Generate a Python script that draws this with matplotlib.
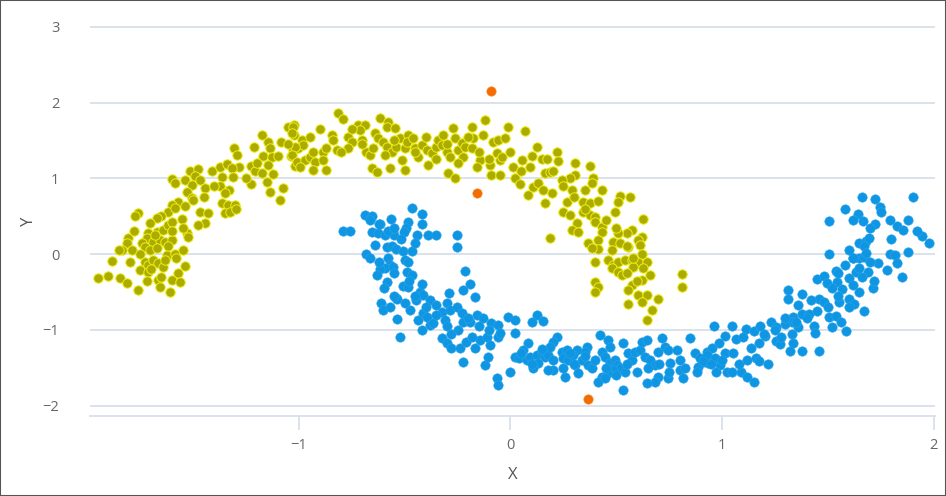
import matplotlib.pyplot as plt
from matplotlib.patches import Rectangle

# class 0 (upper moon)
moon_a_x = [
    -1.599, -1.587, -1.516, -1.476, -1.492, -1.539, -1.508, -1.531, -1.468, -1.445,
    -1.413, -1.374, -1.342, -1.284, -1.319, -1.366, -1.374, -1.331, -1.311, -1.308,
    -1.295, -1.229, -1.208, -1.177, -1.229, -1.213, -1.174, -1.148, -1.169, -1.137,
    -1.126, -1.145, -1.122, -1.137, -1.077, -1.085, -1.051, -1.022, -1.022, -1.027,
    -1.038, -1.019, -1.003,
    -1.090, -1.508, -1.571, -1.602, -1.618, -1.587, -1.539, -1.500, -1.468, -1.429,
    -1.445, -1.476, -1.366, -1.334, -1.303, -1.350, -1.326, -1.760, -1.776, -1.650,
    -1.673, -1.705, -1.713, -1.720, -1.673, -1.642, -1.618, -1.602, -1.555, -1.531,
    -1.523, -1.807, -1.815, -1.839, -1.791, -1.744, -1.728, -1.689, -1.657, -1.634,
    -1.602, -1.705, -1.673, -1.626, -1.587, -1.547, -1.886, -1.752, -1.728, -1.713,
    -1.689, -1.665, -1.642, -1.634, -1.539, -1.949, -1.902, -1.847, -1.815, -1.760,
    -1.665, -1.657, -1.610, -1.602, -1.571, -1.563, -1.713,
    -0.814, -0.794, -1.027, -1.035, -0.988, -0.980, -1.019, -1.035, -1.011, -0.972,
    -0.948, -0.933, -0.925, -0.933, -0.996, -0.885, -0.870, -0.885, -0.870, -0.846,
    -0.838, -0.822, -0.767, -0.751, -0.767, -0.720, -0.688, -0.704, -0.712, -0.681,
    -0.665, -0.657, -0.633, -0.641, -0.625, -0.617, -0.578, -0.586, -0.547, -0.602,
    -0.586, -0.562, -0.594, -0.570, -0.523, -0.539, -0.499, -0.484, -0.491, -0.515,
    -0.499, -0.460, -0.452, -0.436, -0.420, -0.397, -0.389, -0.373, -0.350, -0.342,
    -0.318, -0.326, -0.302, -0.287, -0.271, -0.263, -0.247, -0.231, -0.216, -0.223,
    -0.294, -0.263, -0.184, -0.176, -0.184, -0.129, -0.121, -0.145, -0.160, -0.097,
    -0.082, -0.058, -0.066, -0.050, -0.090, -0.050,
    -0.010, 0.069, -0.026, -0.041, 0.124, 0.219, 0.226, 0.053, 0.092, 0.148,
    0.171, 0.014, 0.163, 0.187, 0.305, 0.376, 0.305, 0.282, 0.242, 0.392,
    0.384, 0.022, 0.045, 0.108, 0.085, 0.132, 0.156, 0.195, 0.289, 0.352,
    0.431, 0.518, 0.565,
    0.163, 0.266, 0.345, 0.376, 0.416, 0.250, 0.282, 0.345, 0.376, 0.400,
    0.510, 0.494, 0.400, 0.431, 0.431, 0.313, 0.289, 0.321, 0.628, 0.573,
    0.549, 0.510, 0.486, 0.518, 0.620, 0.604, 0.612, 0.187, 0.368, 0.416,
    0.416, 0.384, 0.557, 0.400, 0.462, 0.486, 0.510, 0.541, 0.573, 0.604,
    0.644, 0.478, 0.510, 0.526, 0.581, 0.628, 0.660, 0.809, 0.809, 0.400,
    0.416, 0.620, 0.573, 0.557, 0.604, 0.644, 0.699,
    0.400, 0.620, 0.557, 0.667, 0.644,
    -1.80, -1.75, -1.70, -1.68, -1.65, -1.60, -1.62, -1.58, -1.55, -1.78,
    -1.72, -1.85, -1.45, -1.40, -1.35, -1.25, -1.20, -1.10, -1.05, -1.15,
    -1.30, -0.95, -0.90, -0.80, -0.75, -0.70, -0.65, -0.55, -0.45, -0.40,
    -0.35, -0.30, -0.20, -0.15, -0.10, -0.25, 0.00, 0.05, 0.10, 0.20,
    0.25, 0.30, 0.35, 0.45, 0.50, 0.55, 0.58, 0.62, 0.55, 0.60,
    0.48,
]
moon_a_y = [
    0.985, 0.941, 1.100, 1.126, 1.029, 0.977, 0.911, 0.823, 0.977, 0.867,
    1.100, 1.153, 1.188, 1.144, 1.131, 1.012, 0.897, 0.845, 1.021, 1.394,
    1.306, 1.161, 1.100, 1.065, 0.924, 1.416, 1.570, 1.482, 1.293, 1.394,
    1.276, 1.175, 1.056, 0.823, 0.867, 1.482, 1.671, 1.702, 1.570, 1.372,
    1.293, 1.161, 1.394,
    0.712, 0.734, 0.690, 0.646, 0.558, 0.602, 0.633, 0.712, 0.558, 0.536,
    0.404, 0.382, 0.668, 0.646, 0.646, 0.536, 0.558, 0.536, 0.501, 0.501,
    0.470, 0.404, 0.272, 0.206, 0.294, 0.316, 0.382, 0.426, 0.457, 0.272,
    0.228, 0.206, 0.140, 0.052, 0.052, 0.140, 0.096, 0.162, 0.184, 0.162,
    0.184, 0.052, 0.074, -0.014, 0.000, 0.052, -0.088, -0.211, -0.102, -0.145,
    -0.080, -0.124, -0.167, -0.080, -0.159, -0.321, -0.291, -0.321, -0.379, -0.475,
    -0.343, -0.431, -0.497, -0.343, -0.255, -0.365, -0.233,
    1.856, 1.777, 1.680, 1.592, 1.504, 1.438, 1.416, 1.306, 1.218, 1.240,
    1.284, 1.350, 1.218, 1.109, 1.153, 1.350, 1.394, 1.240, 1.109, 1.570,
    1.504, 1.372, 1.548, 1.482, 1.394, 1.702, 1.702, 1.504, 1.636, 1.350,
    1.306, 1.131, 1.087, 1.592, 1.526, 1.790, 1.746, 1.680, 1.658, 1.482,
    1.416, 1.350, 1.306, 1.131, 1.526, 1.416, 1.394, 1.570, 1.482, 1.240,
    1.109, 1.526, 1.394, 1.284, 1.438, 1.372, 1.175, 1.328, 1.416, 1.504,
    1.570, 1.438, 1.350, 1.284, 1.658, 1.526, 1.372, 1.460, 1.416, 1.284,
    1.065, 0.998, 1.680, 1.526, 1.394, 1.570, 1.768, 1.240, 1.153, 1.175,
    1.482, 1.504, 1.328, 1.240, 1.043, 1.043,
    1.671, 1.628, 1.526, 1.284, 1.416, 1.350, 1.232, 1.240, 1.144, 1.249,
    1.258, 1.144, 1.065, 1.087, 1.205, 1.161, 1.043, 0.998, 0.977, 0.998,
    0.933, 0.998, 0.924, 0.889, 0.779, 0.933, 0.845, 0.809, 0.845, 0.845,
    0.845, 0.766, 0.748,
    0.668, 0.690, 0.690, 0.668, 0.703, 0.558, 0.514, 0.558, 0.514, 0.492,
    0.690, 0.558, 0.426, 0.360, 0.294, 0.404, 0.316, 0.294, 0.457, 0.316,
    0.272, 0.272, 0.162, 0.140, 0.228, 0.184, 0.118, 0.206, 0.140, 0.184,
    0.061, 0.074, 0.096, -0.102, -0.080, -0.145, -0.102, -0.080, -0.080, -0.102,
    -0.102, -0.189, -0.233, -0.277, -0.176, -0.189, -0.277, -0.269, -0.431, -0.365,
    -0.431, -0.343, -0.409, -0.475, -0.541, -0.541, -0.599,
    -0.497, -0.629, -0.660, -0.739, -0.871,
    -0.10, 0.00, -0.20, 0.25, -0.30, 0.30, 0.10, -0.05, 0.35, 0.30,
    -0.35, 0.05, 0.75, 0.90, 0.80, 1.00, 1.20, 1.30, 1.45, 0.95,
    0.60, 1.55, 1.65, 1.35, 1.65, 1.45, 1.40, 1.50, 1.35, 1.55,
    1.25, 1.45, 1.55, 1.35, 1.25, 1.20, 1.35, 1.10, 1.30, 1.10,
    0.90, 0.75, 0.60, 0.45, 0.35, 0.10, -0.05, 0.00, -0.25, -0.35,
    0.05,
]

# class 1 (lower moon)
moon_b_x = [
    -0.791, -0.759, -0.688, -0.657, -0.665, -0.617, -0.567, -0.465, -0.420, -0.420,
    -0.484, -0.495, -0.504, -0.657, -0.625, -0.594, -0.550, -0.444, -0.392, -0.353,
    -0.252, -0.252, -0.586, -0.562, -0.539, -0.507, -0.468, -0.681, -0.665, -0.578,
    -0.570, -0.499, -0.484, -0.594, -0.617, -0.554, -0.633, -0.491, -0.468, -0.586,
    -0.216, -0.192, -0.223, -0.168, -0.289, -0.510, -0.484, -0.428, -0.412, -0.539,
    -0.614, -0.602, -0.570, -0.536, -0.536, -0.476, -0.447, -0.436, -0.412, -0.397,
    -0.420, -0.381, -0.365, -0.381, -0.350, -0.326, -0.310, -0.302, -0.287, -0.255,
    -0.231, -0.223, -0.192, -0.160, -0.129, -0.090, -0.058, -0.523, -0.326, -0.302,
    -0.279, -0.239, -0.208, -0.168, -0.145, -0.113, -0.097, -0.058, -0.223, -0.120,
    -0.105, -0.066, -0.058,
    -0.010, 0.022, 0.124, 0.100, 0.156, -0.049, 0.022, 0.085, 0.061, 0.022,
    0.038, 0.077, 0.092, 0.124, 0.132, 0.108, -0.002, 0.148, 0.163, 0.179,
    0.219, 0.203, 0.187, 0.242, 0.266, 0.250, 0.274, 0.313, 0.297, 0.305,
    0.337, 0.360, 0.352, 0.321, 0.258, 0.203, 0.179, 0.368, 0.384, 0.423,
    0.463, 0.471, 0.431, 0.447, 0.471, 0.494, 0.502, 0.518, 0.486, 0.463,
    0.431, 0.416, 0.447, 0.542, 0.534, 0.534, 0.557, 0.573, 0.589, 0.613,
    0.620, 0.644, 0.636, 0.660, 0.683, 0.699, 0.715, 0.731, 0.747, 0.786,
    0.754, 0.802, 0.825, 0.817, 0.747, 0.699, 0.683, 0.644, 0.849, 0.873,
    0.896, 0.928, 0.912, 0.936, 0.888,
    1.662, 1.722, 1.746, 1.903, 1.582, 1.641, 1.617, 1.665, 1.722, 1.794,
    1.826, 1.855, 1.505, 1.649, 1.681, 1.697, 1.673, 1.946, 1.978, 1.505,
    1.617, 1.649, 1.673, 1.794, 1.818, 1.877, 1.738, 1.778, 1.826, 1.850,
    1.537, 1.449, 1.481, 1.497, 1.545, 1.569, 1.601, 1.633, 1.649, 1.689,
    1.617, 1.649, 1.714, 1.313, 1.377, 1.457, 1.601,
    1.481, 1.553, 1.625, 1.673, 1.313, 1.361, 1.377, 1.409, 1.337, 1.329,
    1.297, 1.233, 1.257, 1.361, 1.433, 1.505, 1.537, 1.561, 1.585, 1.521,
    0.960, 1.048, 1.112, 1.152, 1.016, 1.064, 1.201, 1.257, 1.273, 1.329,
    1.337, 1.377, 1.321, 1.457, 1.441, 0.984, 0.952, 0.928, 0.912, 0.968,
    1.016, 0.992, 1.024, 1.048, 1.088, 1.120, 1.152, 1.160, 1.177, 1.217,
    1.136, 1.177,
    1.62, 1.58, 1.66, 1.70, 1.60, 1.55, 1.68, 1.72, 1.55, 1.50,
    1.45, 1.42, 1.60, 1.52, 1.20, 1.25, 1.30, 1.28, 1.35, 1.40,
    1.18, 1.10, 0.95, 1.00, 1.05, 1.08, 0.97, 1.12, 0.88, 0.55,
    0.60, 0.65, 0.70, 0.75, 0.80, 0.50, 0.45, 0.40, 0.05, 0.10,
    0.20, 0.25, 0.30, 0.35, 0.15, 0.28, -0.30, -0.25, -0.20, -0.15,
    -0.10, -0.35, -0.28, -0.18, -0.60, -0.55, -0.50, -0.45, -0.40, -0.55,
    -0.62, -0.48, -0.42, -0.62, -0.58, -0.52, -0.45, -0.55, -0.64, 1.88,
    1.92, 1.75, 1.80, 1.70,
]
moon_b_y = [
    0.308, 0.308, 0.514, 0.501, 0.448, 0.395, 0.457, 0.611, 0.527, 0.395,
    0.426, 0.338, 0.294, 0.286, 0.272, 0.250, 0.250, 0.250, 0.246, 0.246,
    0.246, 0.096, 0.096, 0.105, 0.061, 0.044, 0.044, 0.000, -0.058, -0.058,
    -0.145, -0.080, -0.102, -0.189, -0.203, -0.176, -0.277, -0.233, -0.277, -0.365,
    -0.220, -0.396, -0.475, -0.563, -0.519, -0.423, -0.440, -0.497, -0.541, -0.585,
    -0.651, -0.739, -0.695, -0.598, -0.862, -0.739, -0.607, -0.871, -0.783, -0.827,
    -1.003, -0.937, -0.915, -0.607, -0.673, -0.761, -0.871, -0.651, -0.739, -0.695,
    -0.783, -0.893, -0.893, -0.805, -0.849, -0.915, -0.937, -1.099, -1.113, -1.179,
    -1.245, -1.245, -1.157, -1.245, -1.135, -1.091, -1.201, -1.091, -1.421, -1.464,
    -1.355, -1.640, -1.728,
    -0.827, -0.871, -0.805, -0.893, -0.880, -1.047, -1.047, -1.179, -1.267, -1.355,
    -1.377, -1.399, -1.355, -1.333, -1.443, -1.508, -1.552, -1.289, -1.355, -1.333,
    -1.091, -1.157, -1.223, -1.289, -1.267, -1.377, -1.399, -1.267, -1.333, -1.464,
    -1.399, -1.223, -1.289, -1.574, -1.618, -1.530, -1.530, -1.464, -1.508, -1.069,
    -1.135, -1.223, -1.289, -1.355, -1.443, -1.399, -1.464, -1.508, -1.530, -1.574,
    -1.618, -1.684, -1.640, -1.552, -1.794, -1.179, -1.311, -1.399, -1.289, -1.267,
    -1.157, -1.135, -1.355, -1.399, -1.464, -1.289, -1.113, -1.223, -1.267, -1.267,
    -1.443, -1.530, -1.508, -1.640, -1.640, -1.618, -1.684, -1.706, -1.113, -1.311,
    -1.377, -1.289, -1.421, -1.443, -1.486,
    0.752, 0.730, 0.627, 0.752, 0.596, 0.529, 0.448, 0.439, 0.395, 0.448,
    0.372, 0.314, 0.430, 0.149, 0.171, 0.216, 0.104, 0.238, 0.149, 0.001,
    -0.053, -0.053, -0.044, 0.001, -0.008, 0.023, -0.120, -0.209, -0.120, -0.299,
    -0.222, -0.330, -0.285, -0.388, -0.366, -0.455, -0.321, -0.231, -0.187, -0.231,
    -0.410, -0.500, -0.446, -0.477, -0.522, -0.589, -0.589,
    -0.634, -0.634, -0.656, -0.745, -0.589, -0.678, -0.790, -0.790, -0.835, -0.902,
    -0.924, -0.902, -0.969, -0.969, -0.947, -0.835, -0.813, -0.902, -1.014, -0.969,
    -0.947, -0.947, -0.991, -1.014, -1.081, -1.126, -1.081, -1.148, -1.193, -1.059,
    -1.170, -1.282, -1.282, -1.282, -1.036, -1.170, -1.237, -1.327, -1.416, -1.372,
    -1.304, -1.461, -1.550, -1.550, -1.550, -1.618, -1.685, -1.372, -1.416, -1.452,
    -1.237, -1.170,
    -0.05, -0.15, -0.30, -0.10, 0.05, -0.25, 0.02, -0.35, -0.55, -0.70,
    -0.75, -0.60, -0.70, -0.45, -1.05, -1.00, -0.85, -1.10, -0.90, -0.85,
    -0.95, -1.10, -1.45, -1.40, -1.30, -1.45, -1.55, -1.40, -1.55, -1.45,
    -1.55, -1.50, -1.45, -1.55, -1.40, -1.60, -1.50, -1.40, -1.30, -1.45,
    -1.40, -1.50, -1.45, -1.35, -1.25, -1.30, -0.95, -1.00, -0.85, -0.95,
    -1.00, -0.80, -1.05, -1.10, -0.45, -0.55, -0.65, -0.55, -0.70, -0.25,
    -0.10, -0.35, -0.40, 0.40, 0.30, 0.20, 0.15, 0.35, 0.12, 0.45,
    0.30, 0.55, 0.20, 0.35,
]

# highlighted points
extra_x = [-0.092, -0.160, 0.365]
extra_y = [2.154, 0.800, -1.917]

grid_col = '#d9dfea'
plt.rcParams['font.family'] = ['Open Sans', 'DejaVu Sans']

fig = plt.figure(figsize=(9.46, 4.96), dpi=100)
ax = fig.add_axes([90 / 946, 80 / 496, 845 / 946, 390 / 496])

ax.scatter(moon_a_x, moon_a_y, s=46, color='#abab00', edgecolors='#eded1a',
           linewidths=0.7, zorder=3)
ax.scatter(moon_b_x, moon_b_y, s=46, color='#0f96e2', edgecolors='#2ba4ec',
           linewidths=0.4, zorder=3)
ax.scatter(extra_x, extra_y, s=46, color='#f26c00', edgecolors='#ff8c2a',
           linewidths=0.4, zorder=4)

ax.set_xlim(-1.988, 2.007)
ax.set_ylim(-2.137, 3.01)
ax.set_xticks([-1, 0, 1, 2])
ax.set_yticks([-2, -1, 0, 1, 2, 3])
ax.set_xticklabels(['\u22121', '0', '1', '2'])
ax.set_yticklabels(['\u22122', '\u22121', '0', '1', '2', '3'])

ax.grid(axis='y', color=grid_col, linewidth=1.3, zorder=0)
ax.grid(axis='x', visible=False)
for side in ['top', 'right', 'left']:
    ax.spines[side].set_visible(False)
ax.spines['bottom'].set_color(grid_col)
ax.spines['bottom'].set_linewidth(1.3)
ax.tick_params(axis='x', direction='out', length=10, width=1.3, color=grid_col,
               labelsize=10.5, labelcolor='#666666', pad=6)
ax.tick_params(axis='y', length=0, labelsize=10.5, labelcolor='#666666', pad=22)

ax.set_xlabel('X', fontsize=12, color='#555555', labelpad=10)
ax.set_ylabel('Y', fontsize=12, color='#555555', labelpad=4)

fig.patches.append(Rectangle((0, 0), 1, 1, transform=fig.transFigure, fill=False,
                             edgecolor='#555555', linewidth=1.5))

fig.savefig('out.png', dpi=100)
